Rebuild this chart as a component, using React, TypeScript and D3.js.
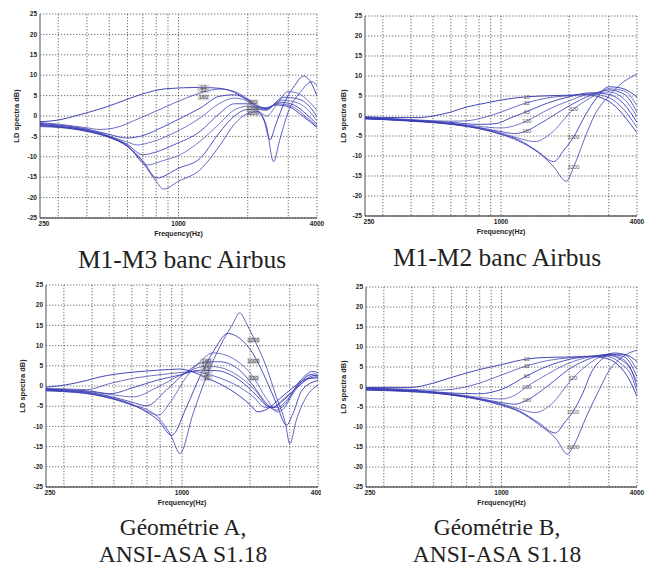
import React from 'react';
import * as d3 from 'd3';

type Pt = [number, number];
type Tag = [string, number, number];

// axes
const freqLabels = [250, 1000, 4000];
const freqGrid = [300, 400, 500, 600, 700, 800, 900, 1000, 2000, 3000, 4000];
const dbTicks = [25, 20, 15, 10, 5, 0, -5, -10, -15, -20, -25];

// M1-M3 banc Airbus
const m1m3Curves: Pt[][] = [
  [[250,-1.4],[300,-1.0],[350,-0.1],[400,0.8],[490,2.3],[580,3.8],[680,5.2],[890,6.7],[1240,7.0],[1500,6.8],[1750,5.8],[2000,3.8],[2200,2.4],[2400,1.9],[2650,2.7],[3000,2.3],[3500,-0.2],[4000,-2.8]],
  [[250,-1.6],[300,-2.0],[400,-2.9],[456,-3.3],[520,-3.0],[681,-0.5],[951,3.1],[1240,5.6],[1500,6.6],[1750,6.0],[2000,4.2],[2200,2.6],[2400,2.0],[2700,3.0],[3100,2.4],[3600,-0.3],[4000,-2.5]],
  [[250,-1.8],[300,-2.2],[400,-3.2],[500,-4.5],[595,-5.4],[700,-4.8],[805,-3.4],[1000,-0.8],[1240,1.9],[1500,4.8],[1750,5.2],[2000,4.0],[2200,2.3],[2400,1.8],[2750,3.4],[3200,2.6],[3600,0.4],[4000,-2.0]],
  [[250,-2.0],[300,-2.4],[400,-3.4],[500,-4.9],[600,-6.4],[660,-7.1],[760,-6.4],[951,-4.2],[1240,-0.5],[1500,3.0],[1750,4.4],[2000,3.6],[2200,2.0],[2400,1.6],[2800,3.9],[3300,3.2],[3700,1.2],[4000,-1.2]],
  [[250,-2.1],[300,-2.5],[400,-3.5],[500,-5.0],[600,-7.0],[700,-9.5],[800,-8.8],[951,-7.1],[1240,-3.8],[1500,0.5],[1750,3.0],[2000,3.0],[2200,1.8],[2400,1.4],[2850,4.6],[3300,4.2],[3700,2.4],[4000,-0.2]],
  [[250,-2.3],[300,-2.6],[400,-3.6],[500,-5.1],[600,-7.2],[728,-12.0],[850,-11.0],[1017,-9.5],[1240,-6.2],[1500,-2.0],[1750,1.5],[2000,2.4],[2200,1.5],[2420,0],[2650,2.5],[3000,6.0],[3400,5.2],[3800,2.8],[4000,1.4]],
  [[250,-2.4],[300,-2.7],[400,-3.7],[500,-5.2],[600,-7.4],[700,-11],[805,-15.2],[1000,-12.8],[1240,-10.4],[1500,-4.2],[1750,0],[2000,1.6],[2200,1.2],[2350,-1],[2500,-5.8],[2650,-2],[2900,3.5],[3200,7.5],[3500,9.8],[3800,7.8],[4000,4.8]],
  [[250,-2.6],[300,-2.8],[400,-3.8],[500,-5.3],[600,-7.5],[700,-11.5],[800,-16],[860,-17.9],[1000,-16],[1240,-13.2],[1500,-7.5],[1750,-2],[2000,0.6],[2200,1.0],[2400,-2],[2590,-11.2],[2750,-6],[3000,1],[3400,6],[3800,8.4],[4000,7.4]],
];
const m1m3Tags: Tag[] = [
  ['10', 1283, 7.0], ['32', 1283, 6.3], ['160', 1283, 4.6],
  ['320', 2100, 3.3], ['1000', 2100, 2.0], ['3200', 2100, 0.7],
];

// M1-M2 banc Airbus
const m1m2Curves: Pt[][] = [
  [[250,-0.2],[350,-0.4],[430,-0.4],[500,0],[600,1.0],[700,2.2],[850,3.2],[1000,4.0],[1300,4.8],[1700,5.1],[2000,5.2],[2400,5.3],[2800,4.5],[3200,2.5],[3600,-0.8],[4000,-4.2]],
  [[250,-0.3],[400,-0.9],[600,-1.3],[700,-1.2],[850,-0.3],[1000,1.0],[1300,3.3],[1600,4.5],[2000,5.1],[2500,5.5],[3000,4.6],[3500,1.6],[4000,-2.9]],
  [[250,-0.4],[400,-1.0],[600,-1.6],[800,-2.1],[950,-1.9],[1100,-0.5],[1300,1.1],[1600,3.2],[2000,4.8],[2500,5.8],[3000,5.4],[3500,3.0],[4000,-1.6]],
  [[250,-0.5],[400,-1.1],[600,-1.8],[800,-2.6],[1000,-3.0],[1150,-2.4],[1300,-1.25],[1600,1.5],[2000,3.8],[2500,5.6],[3000,6.0],[3500,4.3],[4000,-0.2]],
  [[250,-0.6],[400,-1.2],[600,-1.9],[800,-2.9],[1000,-3.9],[1150,-4.4],[1300,-3.7],[1500,-1.8],[2000,2.5],[2500,5.2],[3000,6.5],[3500,5.5],[4000,1.0]],
  [[250,-0.6],[400,-1.2],[600,-2.0],[800,-3.0],[1000,-4.2],[1200,-5.6],[1417,-6.4],[1650,-4.5],[2095,1.7],[2500,4.6],[3000,6.8],[3500,6.3],[4000,2.6]],
  [[250,-0.7],[400,-1.2],[600,-2.0],[800,-3.1],[1000,-4.5],[1200,-6.0],[1450,-8.8],[1710,-11.4],[1900,-8.5],[2095,-5.3],[2350,0],[2650,4.5],[3000,7.3],[3400,7.0],[4000,4.8]],
  [[250,-0.7],[400,-1.3],[600,-2.1],[800,-3.2],[1000,-4.6],[1200,-6.3],[1450,-9],[1700,-12.5],[1945,-16.3],[2095,-12.8],[2350,-5.5],[2600,0.3],[3000,5.0],[3500,8.6],[4000,10.5]],
];
const m1m2Tags: Tag[] = [
  ['10', 1300, 4.8], ['32', 1300, 3.3], ['63', 1300, 1.1], ['100', 1300, -1.25], ['160', 1300, -3.7],
  ['320', 2095, 1.7], ['1000', 2095, -5.3], ['3200', 2095, -12.8],
];

// Géométrie A
const geoACurves: Pt[][] = [
  [[250,-0.3],[300,0.2],[380,1.4],[430,2.2],[600,3.4],[780,3.9],[980,4.2],[1100,3.6],[1283,2.0],[1500,0.3],[1800,-2.5],[2000,-4.6],[2170,-6.4],[2400,-5.6],[2700,-3.2],[3100,-0.4],[3600,1.8],[4000,2.0]],
  [[250,-0.6],[300,-0.7],[378,-0.9],[479,0.6],[608,1.9],[772,2.7],[978,3.3],[1120,3.6],[1283,3.0],[1500,1.8],[1800,-0.3],[2100,-3],[2300,-5.2],[2500,-5.4],[2800,-3.3],[3200,-0.6],[3700,2.0],[4000,2.3]],
  [[250,-0.8],[300,-0.9],[400,-1.3],[479,-1.9],[608,-0.4],[772,1.4],[978,2.7],[1200,3.9],[1421,3.8],[1800,1.4],[2135,-2.3],[2363,-4.8],[2550,-5.2],[2830,-3.4],[3300,0.2],[3870,2.6],[4000,2.5]],
  [[250,-0.9],[300,-1.0],[400,-1.5],[500,-2.2],[608,-2.7],[772,-0.4],[978,2.6],[1283,4.9],[1470,4.6],[1800,2.3],[2135,-1.4],[2445,-5.2],[2650,-5.3],[2900,-3.6],[3320,0.8],[3870,3.0],[4000,2.8]],
  [[250,-1.0],[300,-1.1],[400,-1.7],[500,-2.8],[600,-4.0],[697,-4.9],[853,-1.0],[1047,3.5],[1283,6.0],[1470,6.0],[1800,3.9],[2135,-1.0],[2363,-4.3],[2600,-6.0],[2830,-4.8],[3320,1.2],[3800,3.6],[4000,3.3]],
  [[250,-1.0],[300,-1.2],[400,-1.8],[500,-3.0],[600,-4.5],[700,-6.3],[785,-7.2],[900,-3.5],[1047,2.3],[1200,6.0],[1374,8.2],[1683,6.8],[2063,2.3],[2363,-3.1],[2650,-6.4],[2800,-5.8],[3100,-1.9],[3700,2.8],[4000,2.4]],
  [[250,-1.1],[300,-1.3],[400,-2.0],[500,-3.2],[600,-4.6],[700,-6.5],[785,-8.5],[900,-12.2],[1047,-5.2],[1199,2.3],[1374,8.5],[1600,13],[1800,11.8],[2063,8.0],[2363,1.4],[2616,-4.3],[2900,-9.7],[3100,-6.8],[3400,-1.0],[4000,1.4]],
  [[250,-1.2],[300,-1.4],[400,-2.1],[500,-3.3],[600,-4.7],[697,-5.8],[785,-7.8],[900,-12.6],[978,-16.7],[1120,-6.8],[1283,2.3],[1470,9.7],[1683,15.5],[1800,18.1],[1928,15.5],[2063,12.2],[2363,4.7],[2616,-2.7],[2870,-9.3],[3000,-14.3],[3205,-8.5],[3550,-2.7],[4000,0.2]],
];
const geoATags: Tag[] = [
  ['160', 1283, 6.2], ['100', 1283, 5.1], ['63', 1283, 4.1], ['32', 1283, 3.0], ['10', 1283, 1.9],
  ['3200', 2070, 11.4], ['1000', 2070, 6.2], ['320', 2070, 1.9],
];

// Géométrie B
const geoBCurves: Pt[][] = [
  [[250,-0.1],[392,-0.1],[500,1.0],[600,2.4],[790,4.3],[1000,5.6],[1296,7.0],[1600,7.4],[2000,7.5],[2500,7.6],[2900,7.2],[3300,5.5],[3700,1.8],[4000,-2.4]],
  [[250,-0.2],[400,-0.6],[500,-0.8],[600,-0.6],[790,0.9],[1000,3.0],[1296,5.3],[1600,6.6],[2000,7.3],[2500,7.7],[2950,7.6],[3400,5.8],[3800,2.5],[4000,-1.2]],
  [[250,-0.3],[400,-0.8],[600,-1.5],[790,-1.7],[1000,-0.6],[1296,2.8],[1600,5.2],[2000,6.9],[2500,7.7],[3000,7.9],[3400,6.8],[3800,3.8],[4000,0.1]],
  [[250,-0.4],[400,-0.9],[600,-1.7],[800,-2.6],[1000,-3.0],[1150,-2.0],[1296,0.1],[1600,3.2],[2000,6.0],[2500,7.6],[3000,8.1],[3500,6.8],[4000,1.3]],
  [[250,-0.5],[400,-1.0],[600,-1.8],[800,-2.9],[1000,-3.9],[1150,-4.3],[1296,-3.3],[1600,0.2],[2000,4.5],[2500,7.2],[3000,8.2],[3500,7.6],[4000,2.6]],
  [[250,-0.6],[400,-1.0],[600,-1.9],[800,-3.0],[1000,-4.2],[1200,-5.5],[1412,-6.4],[1650,-4.5],[2075,2.2],[2500,6.2],[3000,8.2],[3500,8.1],[4000,4.3]],
  [[250,-0.7],[400,-1.1],[600,-2.0],[800,-3.1],[1000,-4.4],[1200,-6.0],[1450,-8.8],[1733,-11.5],[1900,-9],[2075,-6.2],[2300,-1.5],[2500,3.5],[2800,7],[3150,8.5],[3600,8],[4000,6.4]],
  [[250,-0.8],[400,-1.2],[600,-2.0],[800,-3.2],[1000,-4.6],[1200,-6.2],[1450,-9.2],[1750,-13],[1965,-16.8],[2075,-15],[2400,-7],[2700,-1],[3000,4],[3500,7.8],[4000,9.2]],
];
const geoBTags: Tag[] = [
  ['10', 1296, 7.0], ['32', 1296, 5.3], ['63', 1296, 2.8], ['100', 1296, 0.1], ['160', 1296, -3.3],
  ['320', 2075, 2.2], ['1000', 2075, -6.2], ['3200', 2075, -15],
];

const panels = [
  { id: 'p1', curves: m1m3Curves, tags: m1m3Tags, boxed: true, left: 40, right: 317, top: 14, bottom: 218, yTitleX: 16, caption: ['M1-M3 banc Airbus'], capX: 182, capY: 268, capSize: 25.5 },
  { id: 'p2', curves: m1m2Curves, tags: m1m2Tags, boxed: false, left: 365, right: 637, top: 16, bottom: 216, yTitleX: 343, caption: ['M1-M2 banc Airbus'], capX: 497, capY: 266, capSize: 25.5 },
  { id: 'p3', curves: geoACurves, tags: geoATags, boxed: true, left: 46, right: 318, top: 285, bottom: 487, yTitleX: 22, caption: ['Géométrie A,', 'ANSI-ASA S1.18'], capX: 183, capY: 535, capSize: 23.5, clipW: 321 },
  { id: 'p4', curves: geoBCurves, tags: geoBTags, boxed: false, left: 366, right: 637, top: 287, bottom: 487, yTitleX: 343, caption: ['Géométrie B,', 'ANSI-ASA S1.18'], capX: 497, capY: 535, capSize: 23.5 },
];

const shades = [0.95, 0.75, 0.9, 0.7, 0.85, 0.7, 0.9, 0.8];
const tickFont = { fontFamily: 'Arial, "Liberation Sans", sans-serif', fontWeight: 700, fontSize: 6.5, fill: '#222' } as const;

function Panel({ p }: { p: typeof panels[number] }) {
  const x = d3.scaleLog().domain([250, 4000]).range([p.left, p.right]);
  const y = d3.scaleLinear().domain([-25, 25]).range([p.bottom, p.top]);
  const line = d3.line<Pt>().x(d => x(d[0])).y(d => y(d[1])).curve(d3.curveMonotoneX);
  const midX = (p.left + p.right) / 2;
  const midY = (p.top + p.bottom) / 2;

  return (
    <g clipPath={p.clipW ? `url(#${p.id}-all)` : undefined}>
      <defs>
        <clipPath id={`${p.id}-plot`}>
          <rect x={p.left} y={p.top - 1} width={p.right - p.left} height={p.bottom - p.top + 2} />
        </clipPath>
        {p.clipW && (
          <clipPath id={`${p.id}-all`}>
            <rect x={0} y={p.top - 10} width={p.clipW} height={300} />
          </clipPath>
        )}
      </defs>

      {/* dotted grid */}
      {dbTicks.map(t => (
        <line key={'h' + t} x1={p.left} x2={p.right} y1={y(t)} y2={y(t)}
          stroke="#333" strokeWidth={0.7} strokeDasharray="1.3,1.7" />
      ))}
      {freqGrid.map(f => (
        <line key={'v' + f} x1={x(f)} x2={x(f)} y1={p.top} y2={p.bottom}
          stroke="#333" strokeWidth={0.7} strokeDasharray="1.3,1.7" />
      ))}

      {/* axes */}
      <line x1={p.left} x2={p.left} y1={p.top} y2={p.bottom} stroke="#777" strokeWidth={1.3} />
      <line x1={p.left} x2={p.right} y1={p.bottom} y2={p.bottom} stroke="#222" strokeWidth={1} />

      {dbTicks.map(t => (
        <text key={'yt' + t} x={p.left - 3} y={y(t)} dy="0.35em" textAnchor="end" {...tickFont}>{t}</text>
      ))}
      {freqLabels.map(f => (
        <text key={'xt' + f} x={f === 250 ? x(f) + 4 : x(f)} y={p.bottom + 8} textAnchor="middle" {...tickFont}>{f}</text>
      ))}
      <text x={midX} y={p.bottom + 18} textAnchor="middle" {...tickFont} fontSize={7}>Frequency(Hz)</text>
      <text transform={`translate(${p.yTitleX},${midY}) rotate(-90)`} textAnchor="middle" dy="0.35em" {...tickFont} fontSize={7.5}>LD spectra dB)</text>

      {/* curves */}
      <g clipPath={`url(#${p.id}-plot)`}>
        {p.curves.map((c, i) => (
          <path key={i} d={line(c) ?? ''} fill="none" stroke="#3a3db3" strokeOpacity={shades[i]} strokeWidth={1} />
        ))}
      </g>

      {/* curve tags */}
      {p.tags.map(([t, f, v], i) => (
        <g key={'tag' + i}>
          {p.boxed && <rect x={x(f) - 6} y={y(v) - 3} width={12} height={6} fill="#9a9aa6" fillOpacity={0.35} />}
          <text x={x(f)} y={y(v)} dy="0.35em" textAnchor="middle"
            fontFamily='Arial, "Liberation Sans", sans-serif' fontSize={5.5} fill={p.boxed ? '#333' : '#555'}>{t}</text>
        </g>
      ))}

      {/* caption */}
      {p.caption.map((c, i) => (
        <text key={'cap' + i} x={p.capX} y={p.capY + i * 27} textAnchor="middle"
          fontFamily='"Times New Roman", "Liberation Serif", serif' fontSize={p.capSize} fill="#222">{c}</text>
      ))}
    </g>
  );
}

export default function App() {
  return (
    <svg width={652} height={570} style={{ position: 'absolute', left: 0, top: 0, background: '#fff' }}>
      <rect width={652} height={570} fill="#fff" />
      {panels.map(p => <Panel key={p.id} p={p} />)}
    </svg>
  );
}
